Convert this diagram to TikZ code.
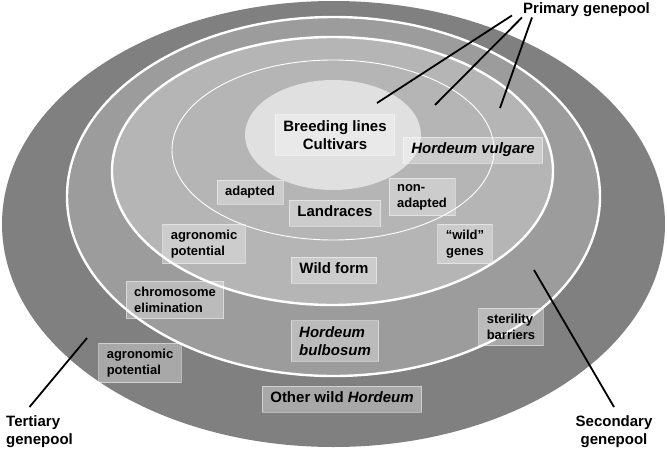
\documentclass[tikz,border=0pt]{standalone}
\usepackage{fontspec}
\setmainfont{Liberation Sans}
\begin{document}
\begin{tikzpicture}[x=1pt,y=-1pt]

% définition des styles
\tikzstyle{boite}=[fill=white,fill opacity=0.32,draw=white,draw opacity=0.45,line width=0.8pt,text opacity=1,text=black,inner xsep=8pt,inner ysep=5.75pt,font=\bfseries\fontsize{13}{16}\selectfont]
\tikzstyle{grande}=[boite,font=\bfseries\fontsize{15}{18}\selectfont]
\tikzstyle{ligne}=[text height=11pt,text depth=3.5pt]
\tikzstyle{titre}=[inner sep=1pt,font=\bfseries\fontsize{15}{18}\selectfont]
\tikzstyle{trait}=[-,line width=1.8pt,black]
\tikzstyle{bord}=[draw=white,line width=2.4pt]

% cadre
\useasboundingbox (0,0) rectangle (667,450);

% les ellipses
\fill[black!50] (333.5,224) ellipse [x radius=331.5,y radius=223];
\filldraw[bord,fill=black!39] (333.5,196.5) ellipse [x radius=266.5,y radius=179.5];
\filldraw[bord,fill=black!29] (332.5,171) ellipse [x radius=220.5,y radius=134];
\draw[white,line width=0.9pt] (333,150) ellipse [x radius=161,y radius=90];
\fill[black!12] (333,135) ellipse [x radius=88,y radius=55];

% les boites
\node[grande,align=center] (cult) at (335,135) {Breeding lines\\Cultivars};
\node[grande,ligne,font=\bfseries\itshape\fontsize{15}{18}\selectfont] (vulg) at (473,150) {Hordeum vulgare};
\node[boite,text height=9.5pt,text depth=3pt] (adap) at (250,192) {adapted};
\node[boite,align=left] (nonad) at (422,197) {non-\\adapted};
\node[grande,ligne] (land) at (335,213) {Landraces};
\node[boite,align=left] (agro1) at (204,244) {agronomic\\potential};
\node[boite,align=center] (wgen) at (465,244) {``wild''\\genes};
\node[grande,ligne] (wform) at (334,270) {Wild form};
\node[boite,align=left] (chrom) at (175,300) {chromosome\\elimination};
\node[grande,align=left,font=\bfseries\itshape\fontsize{15}{18}\selectfont] (bulb) at (335,341) {Hordeum\\bulbosum};
\node[boite,align=left] (steril) at (511,327) {sterility\\barriers};
\node[boite,align=left] (agro2) at (140,363) {agronomic\\potential};
\node[grande,ligne] (other) at (342,399) {Other wild \textit{Hordeum}};

% les titres
\node[titre,anchor=north west] (prim) at (522,1) {Primary genepool};
\node[titre,anchor=north west,align=left] (tert) at (5,414) {Tertiary\\genepool};
\node[titre,anchor=north,align=center] (sec) at (614,414) {Secondary\\genepool};

% les traits
\coordinate (p1) at (377,103);
\coordinate (p2) at (435,105);
\coordinate (p3) at (500,108);
\coordinate (t1) at (87,338);
\coordinate (s1) at (534,270);
\draw[trait] ([xshift=-10pt,yshift=2pt]prim.south west) -- (p1);
\draw[trait] (prim.south west) -- (p2);
\draw[trait] ([xshift=10pt]prim.south west) -- (p3);
\draw[trait] ([xshift=-10pt,yshift=7pt]tert.north) -- (t1);
\draw[trait] ([yshift=7pt]sec.north) -- (s1);

\end{tikzpicture}
\end{document}
